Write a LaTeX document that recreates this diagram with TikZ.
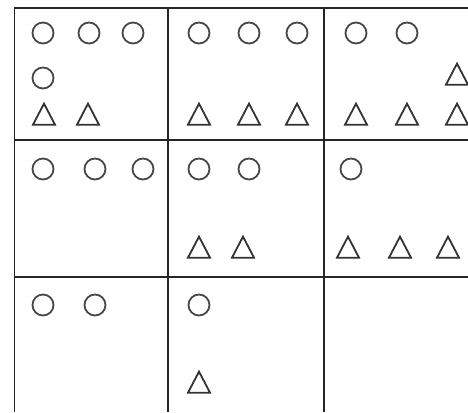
\documentclass[tikz,border=0pt]{standalone}
\usepackage{tikz}
\usetikzlibrary{shapes.geometric}

\begin{document}
\begin{tikzpicture}[
    x=1pt, y=-1pt,
    grid/.style={draw=black!85, line width=1.7pt},
    circ/.style={circle, draw=black!72, line width=1.8pt, minimum size=21pt,
                 inner sep=0pt},
    tri/.style={isosceles triangle, isosceles triangle stretches,
                shape border rotate=90, draw=black!80, line width=1.8pt,
                minimum width=22pt, minimum height=21pt, inner sep=0pt}
  ]
    \useasboundingbox (0,0) rectangle (468,412);
    % grid
    \draw[grid] (14.5,412) -- (14.5,8) -- (468,8);
    \draw[grid] (168,8) -- (168,412);
    \draw[grid] (324,8) -- (324,412);
    \draw[grid] (14.5,140) -- (468,140);
    \draw[grid] (14.5,277) -- (468,277);
    % row 1
    \node[circ] (a1) at (43,33) {};
    \node[circ] (a2) at (89,33) {};
    \node[circ] (a3) at (133,33) {};
    \node[circ] (a4) at (43,78) {};
    \node[tri]  (a5) at (44,118) {};
    \node[tri]  (a6) at (88,118) {};
    \node[circ] (b1) at (199,33) {};
    \node[circ] (b2) at (249,33) {};
    \node[circ] (b3) at (297,33) {};
    \node[tri]  (b4) at (199,118) {};
    \node[tri]  (b5) at (249,118) {};
    \node[tri]  (b6) at (297,118) {};
    \node[circ] (c1) at (356,33) {};
    \node[circ] (c2) at (407,33) {};
    \node[tri]  (c3) at (457,78) {};
    \node[tri]  (c4) at (356,118) {};
    \node[tri]  (c5) at (407,118) {};
    \node[tri]  (c6) at (457,118) {};
    % row 2
    \node[circ] (d1) at (43,169) {};
    \node[circ] (d2) at (95,169) {};
    \node[circ] (d3) at (143,169) {};
    \node[circ] (e1) at (199,169) {};
    \node[circ] (e2) at (249,169) {};
    \node[tri]  (e3) at (199,251) {};
    \node[tri]  (e4) at (243,251) {};
    \node[circ] (f1) at (351,169) {};
    \node[tri]  (f2) at (348,251) {};
    \node[tri]  (f3) at (400,251) {};
    \node[tri]  (f4) at (448,251) {};
    % row 3
    \node[circ] (g1) at (43,305) {};
    \node[circ] (g2) at (95,305) {};
    \node[circ] (h1) at (199,305) {};
    \node[tri]  (h2) at (199,386) {};
  \end{tikzpicture}
\end{document}
